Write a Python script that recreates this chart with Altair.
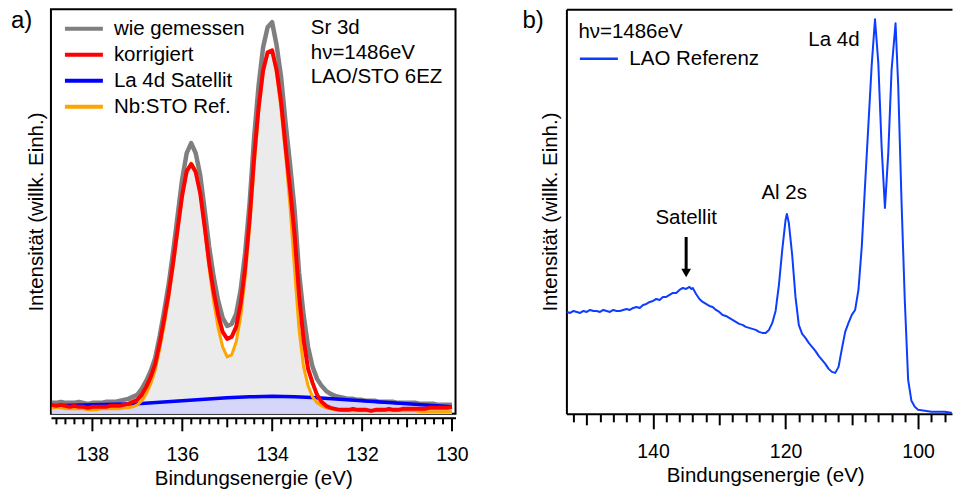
import altair as alt
import pandas as pd

FONT = "Liberation Sans"

# ---------------- (a) Sr 3d core level ----------------
sr_energy = [
    138.9, 138.8, 138.7, 138.6, 138.5, 138.4, 138.3, 138.2, 138.1, 138.0,
    137.9, 137.8, 137.7, 137.6, 137.5, 137.4, 137.3, 137.2, 137.1, 137.0,
    136.9, 136.8, 136.7, 136.6, 136.5, 136.4, 136.3, 136.2, 136.1, 136.0,
    135.9, 135.8, 135.7, 135.6, 135.5, 135.4, 135.3, 135.2, 135.1, 135.0,
    134.9, 134.8, 134.7, 134.6, 134.5, 134.4, 134.3, 134.2, 134.1, 134.0,
    133.9, 133.8, 133.7, 133.6, 133.5, 133.4, 133.3, 133.2, 133.1, 133.0,
    132.9, 132.8, 132.7, 132.6, 132.5, 132.4, 132.3, 132.2, 132.1, 132.0,
    131.9, 131.8, 131.7, 131.6, 131.5, 131.4, 131.3, 131.2, 131.1, 131.0,
    130.9, 130.8, 130.7, 130.6, 130.5, 130.4, 130.3, 130.2, 130.1, 130.0,
]
sr_measured = [
    12, 12, 13, 12, 12, 12, 13, 12, 11, 12,
    12, 12, 13, 13, 13, 14, 15, 16, 18, 20,
    26, 34, 44, 57, 79, 104, 131, 164, 200, 236,
    262, 272, 262, 240, 205, 168, 138, 114, 97, 89,
    91, 101, 125, 162, 212, 278, 330, 368, 388, 393,
    370, 338, 292, 250, 205, 142, 100, 68, 48, 36,
    29, 24, 21, 19, 18, 17, 16, 16, 15, 15,
    14, 14, 14, 13, 13, 13, 13, 12, 12, 12,
    12, 12, 11, 11, 11, 11, 10, 10, 10, 10,
]
sr_corrected = [
    10, 9, 10, 9, 8, 9, 8, 8, 7, 8,
    8, 8, 8, 9, 9, 9, 10, 11, 13, 15,
    20, 28, 38, 51, 72, 96, 122, 153, 187, 220,
    244, 251, 243, 222, 188, 152, 123, 100, 83, 76,
    78, 88, 111, 147, 196, 258, 308, 345, 363, 365,
    345, 313, 268, 226, 180, 120, 75, 46, 32, 20,
    13, 9, 7, 6, 5, 5, 5, 6, 5, 5,
    5, 4, 5, 5, 5, 6, 5, 5, 6, 6,
    6, 6, 6, 6, 7, 7, 7, 7, 7, 8,
]
sr_nbsto = [
    7, 7, 7, 6, 6, 6, 6, 6, 5, 5,
    5, 6, 6, 6, 6, 6, 7, 7, 8, 10,
    14, 21, 31, 45, 66, 90, 117, 149, 184, 218,
    243, 252, 245, 223, 186, 146, 113, 87, 68, 58,
    60, 73, 98, 137, 188, 248, 304, 343, 362, 364,
    342, 305, 260, 208, 145, 85, 48, 29, 18, 12,
    9, 7, 6, 5, 5, 4, 4, 4, 4, 4,
    4, 4, 4, 4, 4, 4, 4, 4, 4, 4,
    4, 4, 3, 3, 3, 3, 3, 3, 3, 3,
]
sat_energy = [138.9, 138.0, 137.0, 136.5, 136.0, 135.5, 135.0, 134.5, 134.0,
              133.5, 133.0, 132.5, 132.0, 131.5, 131.0, 130.5, 130.0]
sat_intensity = [9, 10, 11, 12.5, 14, 15.5, 17, 18, 18.5,
                 18, 17, 15.5, 14, 12.5, 11, 9.5, 8]

series_names = ["wie gemessen", "korrigiert", "La 4d Satellit", "Nb:STO Ref."]
series_colors = ["#7f7f7f", "#ff0000", "#0000ff", "#ffa500"]
draw_order = ["wie gemessen", "La 4d Satellit", "Nb:STO Ref.", "korrigiert"]
line_widths = {"wie gemessen": 4.5, "korrigiert": 4, "La 4d Satellit": 3.5, "Nb:STO Ref.": 3}

notes_a = ["Sr 3d", "hν=1486eV", "LAO/STO 6EZ"]
notes_a_energy = [133.14]
notes_a_height = [397]

ticks_a = [round(130 + 0.2 * i, 1) for i in range(45)]

# ---------------- (b) LAO reference spectrum ----------------
lao_energy = [
    153.0, 152.5, 152.0, 151.5, 151.0, 150.5, 150.0, 149.5, 149.0, 148.5,
    148.0, 147.5, 147.0, 146.5, 146.0, 145.5, 145.0, 144.5, 144.0, 143.5,
    143.0, 142.5, 142.0, 141.5, 141.0, 140.5, 140.0, 139.5, 139.0, 138.5,
    138.0, 137.5, 137.0, 136.5, 136.0, 135.5, 135.0, 134.5, 134.2, 134.0,
    133.5, 133.0, 132.5, 132.0, 131.5, 131.0, 130.5, 130.0, 129.5, 129.0,
    128.5, 128.0, 127.5, 127.0, 126.5, 126.0, 125.5, 125.0, 124.5, 124.0,
    123.5, 123.0, 122.5, 122.0, 121.5, 121.0, 120.5, 120.0, 119.8, 119.5,
    119.0, 118.5, 118.0, 117.5, 117.0, 116.5, 116.0, 115.5, 115.0, 114.5,
    114.0, 113.5, 113.0, 112.5, 112.0, 111.5, 111.0, 110.5, 110.0, 109.5,
    109.0, 108.5, 108.0, 107.5, 107.0, 106.5, 106.0, 105.5, 105.0, 104.5,
    104.0, 103.4, 103.0, 102.5, 102.0, 101.5, 101.0, 100.5, 100.0, 99.0,
    98.0, 97.0, 96.0, 95.0, 94.9,
]
lao_intensity = [
    103, 102, 104, 103, 102, 104, 103, 105, 104, 104,
    103, 105, 104, 103, 105, 104, 104, 105, 106, 105,
    107, 108, 107, 110, 111, 113, 114, 116, 115, 118,
    118, 120, 122, 122, 125, 127, 126, 128, 126, 127,
    121, 116, 113, 111, 109, 108, 105, 103, 100, 99,
    97, 95, 93, 91, 90, 88, 87, 86, 85, 83,
    82, 82, 85, 92, 104, 130, 165, 195, 201, 192,
    160, 118, 90, 81, 77, 72, 68, 64, 59, 55,
    51, 46, 43, 42, 48, 66, 83, 92, 100, 105,
    125, 168, 230, 290, 350, 396, 352, 268, 207, 262,
    345, 392, 330, 214, 114, 35, 14, 8, 5, 4,
    3, 3, 3, 2, 2,
]
peak_names = ["Satellit", "Al 2s", "La 4d"]
peak_name_energy = [135.0, 120.2, 112.7]
peak_name_height = [197, 222, 375]
arrow_energy = [135.0]
arrow_from = [178]
arrow_to = [146]
arrow_head = [142]

ticks_b = list(range(96, 153, 2))

# ---------------- tables ----------------
def table(name, energy, values):
    return pd.DataFrame({"series": name, "energy": energy, "intensity": values})

sr_df = pd.concat([
    table("wie gemessen", sr_energy, sr_measured),
    table("korrigiert", sr_energy, sr_corrected),
    table("Nb:STO Ref.", sr_energy, sr_nbsto),
    table("La 4d Satellit", sat_energy, sat_intensity),
], ignore_index=True)
notes_df = pd.DataFrame({"energy": notes_a_energy, "intensity": notes_a_height})

lao_df = table("LAO Referenz", lao_energy, lao_intensity)
peaks_df = pd.DataFrame({"energy": peak_name_energy, "intensity": peak_name_height,
                         "label": peak_names})
arrow_df = pd.DataFrame({"energy": arrow_energy, "intensity": arrow_from,
                         "tip": arrow_to, "head": arrow_head})

y_title = "Intensität (willk. Einh.)"


def panel_title(label, dx):
    return alt.TitleParams(label, anchor="start", frame="bounds", orient="top",
                           fontSize=24, fontWeight="normal", font=FONT,
                           baseline="top", offset=0, dx=dx, dy=24, color="black")


# ---------------- panel (a) ----------------
scale_xa = alt.Scale(domain=[138.92, 129.92], nice=False, zero=False)
scale_ya = alt.Scale(domain=[1, 406], nice=False, zero=False)

axis_xa = alt.Axis(
    values=ticks_a, format=".0f", labelOverlap=False, grid=False,
    labelExpr="datum.value % 2 === 0 ? datum.label : ''",
    tickSize={"condition": [{"test": "datum.value % 2 === 0", "value": 13},
                            {"test": "datum.value % 1 === 0", "value": 9}],
              "value": 6},
    tickWidth=2, domainWidth=2, offset=4, labelPadding=15, labelFontSize=19.5,
    titlePadding=4,
)
xa = alt.X("energy:Q", scale=scale_xa, axis=axis_xa, title="Bindungsenergie (eV)")
ya = alt.Y("intensity:Q", scale=scale_ya, title=y_title,
           axis=alt.Axis(labels=False, ticks=False, domain=False, grid=False, titlePadding=4))
color_a = alt.Color(
    "series:N",
    scale=alt.Scale(domain=series_names, range=series_colors),
    legend=alt.Legend(
        title=None, orient="none", legendX=12, legendY=8, padding=0,
        symbolType="M-1,0H3", symbolSize=361, symbolStrokeWidth=4,
        labelOffset=28, rowPadding=4, labelFontSize=20.5, labelFont=FONT,
        labelColor="black",
    ),
)

base_a = alt.Chart(sr_df)
fill_ref = base_a.transform_filter(alt.datum.series == "Nb:STO Ref.").mark_area(
    color="#ebebeb").encode(x=xa, y=ya, y2=alt.datum(1))
fill_sat = base_a.transform_filter(alt.datum.series == "La 4d Satellit").mark_area(
    color="#d6d6fa").encode(x=xa, y=ya, y2=alt.datum(1))
lines_a = [
    base_a.transform_filter(alt.datum.series == name).mark_line(
        strokeWidth=line_widths[name], strokeJoin="round").encode(x=xa, y=ya, color=color_a)
    for name in draw_order
]
notes = alt.Chart(notes_df).mark_text(
    text=notes_a, align="left", baseline="top", fontSize=20.5, font=FONT,
    lineHeight=24.5, color="black",
).encode(x=xa, y=ya)

panel_a = alt.layer(fill_ref, fill_sat, *lines_a, notes).properties(
    width=405, height=405,
    view=alt.ViewBackground(stroke="black", strokeWidth=2),
    title=panel_title("a)", -16),
)

# ---------------- panel (b) ----------------
scale_xb = alt.Scale(domain=[153.07, 94.88], nice=False, zero=False)
scale_yb = alt.Scale(domain=[1, 406], nice=False, zero=False)

axis_xb = alt.Axis(
    values=ticks_b, format="d", labelOverlap=False, grid=False,
    labelExpr="datum.value % 20 === 0 ? datum.label : ''",
    tickSize={"condition": [{"test": "datum.value % 20 === 0", "value": 15},
                            {"test": "datum.value % 10 === 0", "value": 11}],
              "value": 8},
    tickWidth=2, domainWidth=2, labelPadding=14, labelFontSize=19.5,
    titlePadding=4, titleX=199, titleAlign="center",
)
axis_yb = alt.Axis(labels=False, ticks=False, grid=False, domain=True,
                   domainWidth=2, titlePadding=6)
xb = alt.X("energy:Q", scale=scale_xb, axis=axis_xb, title="Bindungsenergie (eV)")
xb_top = alt.X("energy:Q", scale=scale_xb, title=None,
               axis=alt.Axis(orient="top", labels=False, ticks=False, grid=False,
                             domainWidth=2))
xb_plain = alt.X("energy:Q", scale=scale_xb, axis=None)
yb = alt.Y("intensity:Q", scale=scale_yb, title=y_title, axis=axis_yb)
yb_head = alt.Y("head:Q", scale=scale_yb, title=y_title, axis=axis_yb)
color_b = alt.Color(
    "series:N",
    scale=alt.Scale(domain=["LAO Referenz"], range=["#0d3dff"]),
    legend=alt.Legend(
        title="hν=1486eV", orient="none", legendX=12, legendY=13, padding=0,
        titleFontSize=20.5, titleFont=FONT, titleFontWeight="normal",
        titleColor="black", titlePadding=5, titleAnchor="start",
        symbolType="M-1,0H3", symbolSize=361, symbolStrokeWidth=2.5,
        labelOffset=29, labelFontSize=20.5, labelFont=FONT, labelColor="black",
    ),
)

line_b = alt.Chart(lao_df).mark_line(strokeWidth=2, strokeJoin="round").encode(
    x=xb, y=yb, color=color_b)
peak_text = alt.Chart(peaks_df).mark_text(
    fontSize=20.5, font=FONT, color="black", align="center", baseline="middle",
).encode(x=xb_top, y=yb, text="label:N")
arrow_shaft = alt.Chart(arrow_df).mark_rule(strokeWidth=3, color="black").encode(
    x=xb_plain, y=yb, y2="tip:Q")
arrow_tip = alt.Chart(arrow_df).mark_point(
    shape="triangle-down", filled=True, size=95, color="black", opacity=1,
).encode(x=xb_plain, y=yb_head)

panel_b = alt.layer(line_b, peak_text, arrow_shaft, arrow_tip).resolve_axis(
    x="independent").properties(
    width=386, height=405,
    view=alt.ViewBackground(strokeWidth=0),
    title=panel_title("b)", -18),
)

chart = alt.hconcat(panel_a, panel_b, spacing=53).resolve_scale(
    color="independent").properties(
    padding={"left": 10, "top": 8, "right": 0, "bottom": 0},
).configure(
    font=FONT,
).configure_axis(
    labelFont=FONT, titleFont=FONT, labelColor="black", titleColor="black",
    tickColor="black", domainColor="black", titleFontWeight="normal",
    titleFontSize=20.5,
).configure_legend(
    labelLimit=0,
)

chart.save("out.html", embed_options={"renderer": "svg", "actions": False})
